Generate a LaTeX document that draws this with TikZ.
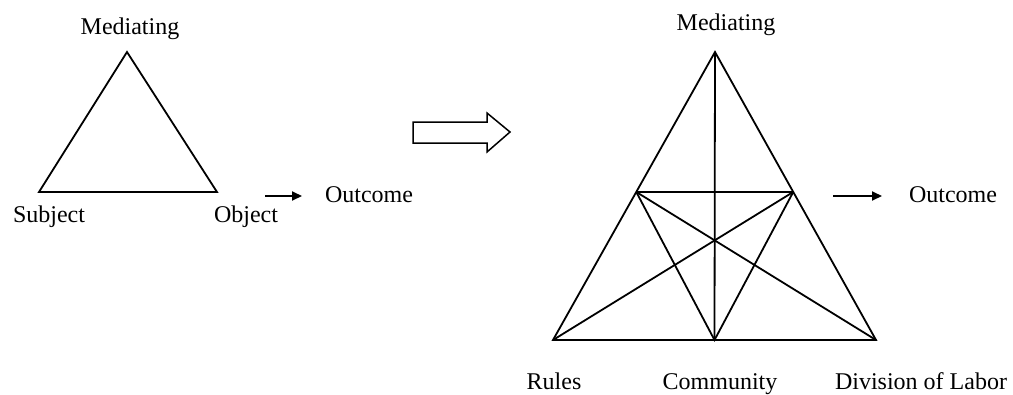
\documentclass[tikz,border=0pt]{standalone}
\usepackage{fontspec}
\setmainfont{Liberation Serif}
\usetikzlibrary{arrows.meta,calc}
\begin{document}
\begin{tikzpicture}[x=1pt,y=-1pt,
  edge/.style={line width=1.8pt,line join=miter},
  lbl/.style={inner sep=0pt,anchor=base,font=\fontsize{24}{27}\selectfont},
  flow/.style={line width=2pt,-{Triangle[length=10pt,width=9pt]}}]
\useasboundingbox (0,0) rectangle (1013,394);
% left triangle
\coordinate (LA) at (127,52);
\coordinate (LB) at (39,192);
\coordinate (LC) at (217,192);
\draw[edge] (LA) -- (LB) -- (LC) -- cycle;
\node[lbl] (lmed) at (130,34) {Mediating};
\node[lbl] (subj) at (49,222) {Subject};
\node[lbl] (obj) at (246,222) {Object};
\node[lbl] (lout) at (369,202) {Outcome};
\coordinate (la1) at (265,196);
\coordinate (la2) at (302,196);
\draw[flow] (la1) -- (la2);
% block arrow
\draw[line width=1.5pt,line join=miter] (413,122) -- (487,122) -- (487,113) -- (510,132) -- (487,152) -- (487,143) -- (413,143) -- cycle;
% right triangle
\coordinate (A) at (715,52);
\coordinate (B) at (553,340);
\coordinate (C) at (876,340);
\coordinate (M) at ($(B)!0.5!(C)$);
\coordinate (P) at ($(B)!0.514!(A)$);
\coordinate (Q) at ($(C)!0.514!(A)$);
\draw[edge] (A) -- (B) -- (C) -- cycle;
\draw[edge] (A) -- (M);
\draw[edge] (P) -- (Q);
\draw[edge] (P) -- (M) -- (Q);
\draw[edge] (B) -- (Q);
\draw[edge] (C) -- (P);
\node[lbl] (rmed) at (726,30) {Mediating};
\node[lbl] (rout) at (953,202) {Outcome};
\node[lbl] (rules) at (554,389) {Rules};
\node[lbl] (comm) at (720,389) {Community};
\node[lbl] (div) at (921,389) {Division of Labor};
\coordinate (ra1) at (833,196);
\coordinate (ra2) at (882,196);
\draw[flow] (ra1) -- (ra2);
\end{tikzpicture}
\end{document}
